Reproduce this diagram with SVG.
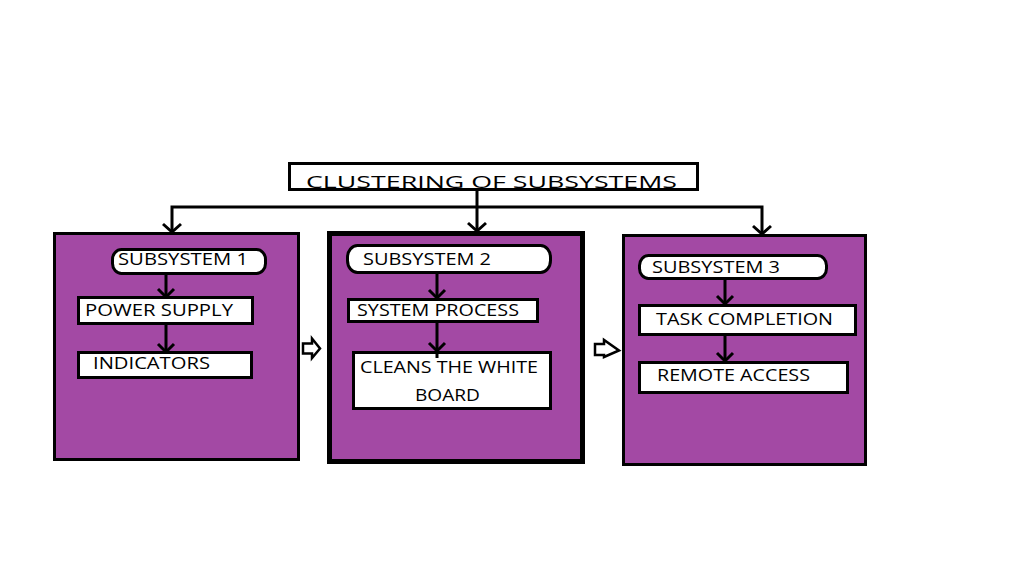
<svg xmlns="http://www.w3.org/2000/svg" width="1022" height="588" viewBox="0 0 1022 588">
<style>
.bg{fill:#ffffff}
.sub{fill:#A349A4;stroke:#000;stroke-width:3}
.box{fill:#fff;stroke:#000;stroke-width:3}
.pill{fill:#fff;stroke:#000;stroke-width:3}
.t{font-family:"Open Sans","Liberation Sans",sans-serif;fill:#000;font-size:17px}
.ln{fill:none;stroke:#000;stroke-width:3}
.hd{fill:none;stroke:#000;stroke-width:3}
.ha{fill:#fff;stroke:#000;stroke-width:2.5;stroke-linejoin:miter}
</style>
<rect class="bg" x="0" y="0" width="1022" height="588"/>
<g id="title">
<rect class="box" x="289.5" y="163.5" width="408" height="26"/>
<text class="t" x="306" y="188" font-size="21" textLength="371" lengthAdjust="spacingAndGlyphs">CLUSTERING OF SUBSYSTEMS</text>
</g>
<g id="sub1">
<rect class="sub" x="54.5" y="233.5" width="244" height="226"/>
<rect class="pill" x="112.5" y="249.5" width="153" height="24" rx="9" ry="10"/>
<text class="t" x="118" y="265" textLength="130" lengthAdjust="spacingAndGlyphs">SUBSYSTEM 1</text>
<rect class="box" x="78.5" y="297.5" width="174" height="26"/>
<text class="t" x="85" y="316" textLength="148" lengthAdjust="spacingAndGlyphs">POWER SUPPLY</text>
<rect class="box" x="78.5" y="352.5" width="173" height="25"/>
<text class="t" x="93" y="369" textLength="117" lengthAdjust="spacingAndGlyphs">INDICATORS</text>
</g>
<g id="sub2">
<rect x="329.5" y="233.5" width="253" height="228" fill="#A349A4" stroke="#000" stroke-width="5"/>
<rect class="pill" x="347.5" y="245.5" width="203" height="27" rx="10" ry="12"/>
<text class="t" x="363" y="265" font-size="19" textLength="128" lengthAdjust="spacingAndGlyphs">SUBSYSTEM 2</text>
<rect class="box" x="348.5" y="299.5" width="189" height="22"/>
<text class="t" x="357" y="316" font-size="18" textLength="162" lengthAdjust="spacingAndGlyphs">SYSTEM PROCESS</text>
<rect class="box" x="353.5" y="352.5" width="197" height="56"/>
<text class="t" x="360" y="373" font-size="19" textLength="178" lengthAdjust="spacingAndGlyphs">CLEANS THE WHITE</text>
<text class="t" x="415" y="401" font-size="19" textLength="65" lengthAdjust="spacingAndGlyphs">BOARD</text>
</g>
<g id="sub3">
<rect class="sub" x="623.5" y="235.5" width="242" height="229"/>
<rect class="pill" x="639.5" y="255.5" width="187" height="23" rx="9" ry="10"/>
<text class="t" x="652" y="273" font-size="19" textLength="128" lengthAdjust="spacingAndGlyphs">SUBSYSTEM 3</text>
<rect class="box" x="639.5" y="305.5" width="216" height="29"/>
<text class="t" x="656" y="325" font-size="19" textLength="177" lengthAdjust="spacingAndGlyphs">TASK COMPLETION</text>
<rect class="box" x="639.5" y="362.5" width="208" height="30"/>
<text class="t" x="657" y="381" font-size="19" textLength="153" lengthAdjust="spacingAndGlyphs">REMOTE ACCESS</text>
</g>
<g id="connectors">
<path class="ln" d="M477 190 V232 M172 233 V207 H762 V235"/>
<path class="hd" d="M468 223 L477 231 L486 223"/>
<path class="hd" d="M163 224 L172 232 L181 224"/>
<path class="hd" d="M753 226 L762 234 L771 226"/>
<path class="ln" d="M166 274 V296 M166 324 V351"/>
<path class="hd" d="M158 289 L166 297 L174 289"/>
<path class="hd" d="M158 344 L166 352 L174 344"/>
<path class="ln" d="M437 273 V298 M437 322 V358"/>
<path class="hd" d="M429 290 L437 298 L445 290"/>
<path class="hd" d="M429 343 L437 351 L445 343"/>
<path class="ln" d="M725 278 V304 M725 335 V361"/>
<path class="hd" d="M717 296 L725 304 L733 296"/>
<path class="hd" d="M717 353 L725 361 L733 353"/>
<path class="ha" d="M303 343.5 H312 V338.5 L320 348.5 L312 358 V353.5 H303 Z"/>
<path class="ha" d="M595 344 H604 V340 L619 350.5 L604 357 V355 H595 Z"/>
</g>
</svg>
